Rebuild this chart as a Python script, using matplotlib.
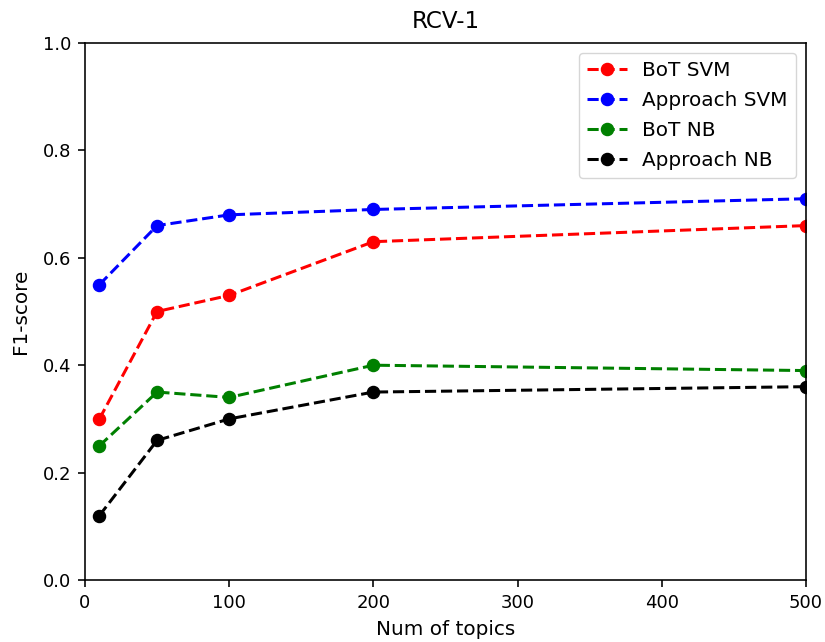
import matplotlib
matplotlib.use("Agg")
import matplotlib.pyplot as plt

topics = [10, 50, 100, 200, 500]
bot_svm = [0.30, 0.50, 0.53, 0.63, 0.66]
approach_svm = [0.55, 0.66, 0.68, 0.69, 0.71]
bot_nb = [0.25, 0.35, 0.34, 0.40, 0.39]
approach_nb = [0.12, 0.26, 0.30, 0.35, 0.36]

s = 1.45
plt.rcParams['font.size'] = 14.4
fig = plt.figure(figsize=(8.25, 6.42), dpi=100)
ax = fig.add_axes([85/825, 62/642, (806-85)/825, (580-43)/642])
kw = dict(linestyle='--', marker='o', markersize=6*s, linewidth=1.5*s)
ax.plot(topics, bot_svm, color='red', label='BoT SVM', **kw)
ax.plot(topics, approach_svm, color='blue', label='Approach SVM', **kw)
ax.plot(topics, bot_nb, color='green', label='BoT NB', **kw)
ax.plot(topics, approach_nb, color='black', label='Approach NB', **kw)
ax.set_xlim(0, 500)
ax.set_ylim(0, 1.0)
ax.set_title('RCV-1', fontsize=16.6, pad=11)
ax.set_xlabel('Num of topics', fontsize=14.4, labelpad=6)
ax.set_ylabel('F1-score', fontsize=14.4, labelpad=9)
for sp in ax.spines.values():
    sp.set_linewidth(0.8*s)
ax.tick_params(width=0.8*s, length=3.5*s, pad=3.5*s, labelsize=13)
ax.legend(loc='upper right', fontsize=14.4, labelspacing=0.55)
fig.savefig('out.png', dpi=100)
